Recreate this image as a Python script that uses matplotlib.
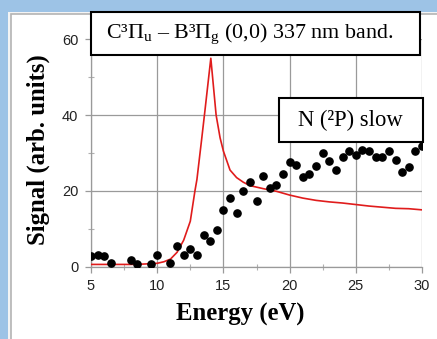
import matplotlib
matplotlib.use("Agg")
import matplotlib.pyplot as plt
from matplotlib.patches import Rectangle
from matplotlib.ticker import MultipleLocator

# N(2P) slow-atom signal (dots)
dot_energy = [5.0, 5.5, 6.0, 6.5, 8.0, 8.5, 9.5, 10.0, 11.0, 11.5, 12.0, 12.5,
              13.0, 13.5, 14.0, 14.5, 15.0, 15.5, 16.0, 16.5, 17.0, 17.5, 18.0,
              18.5, 19.0, 19.5, 20.0, 20.5, 21.0, 21.5, 22.0, 22.5, 23.0, 23.5,
              24.0, 24.5, 25.0, 25.5, 26.0, 26.5, 27.0, 27.5, 28.0, 28.5, 29.0,
              29.5, 30.0]
dot_signal = [2.8, 3.1, 2.8, 1.1, 1.8, 0.7, 0.6, 3.0, 0.9, 5.5, 3.2, 4.8,
              3.0, 8.3, 6.9, 9.7, 15.0, 18.0, 14.3, 20.1, 22.3, 17.4, 23.9,
              20.8, 21.6, 24.4, 27.7, 26.8, 23.7, 24.5, 26.7, 30.1, 28.0, 25.5,
              28.9, 30.6, 29.5, 30.8, 30.4, 28.9, 28.9, 30.6, 28.2, 24.9, 26.4,
              30.6, 31.9]

# C-B (0,0) 337 nm band emission (red curve)
band_energy = [5.0, 6.0, 7.0, 8.0, 9.0, 10.0, 10.5, 11.0, 11.5, 12.0, 12.5,
               12.85, 13.0, 13.35, 13.6, 14.05, 14.45, 14.75, 15.0, 15.5, 16.0,
               16.5, 17.0, 18.0, 19.0, 20.0, 21.0, 22.0, 23.0, 24.0, 25.0, 26.0,
               27.0, 28.0, 29.0, 30.0]
band_signal = [0.6, 0.6, 0.6, 0.6, 0.7, 0.9, 1.3, 2.0, 3.8, 7.0, 12.0,
               20.0, 23.0, 33.4, 41.0, 55.0, 40.0, 34.0, 30.5, 25.5, 23.5,
               22.3, 21.4, 20.6, 19.9, 18.9, 18.1, 17.5, 17.1, 16.8, 16.4, 16.0,
               15.7, 15.4, 15.3, 15.0]

x_ticks = [5, 10, 15, 20, 25, 30]
y_ticks = [0, 20, 40, 60]

plt.rcParams["mathtext.fontset"] = "custom"
plt.rcParams["mathtext.rm"] = "Liberation Serif"
plt.rcParams["mathtext.it"] = "Liberation Serif:italic"

W, H = 437, 339
fig = plt.figure(figsize=(W / 100, H / 100), dpi=100)
fig.patch.set_facecolor("#9dc3e6")


def fx(px):
    return px / W


def fy(py):
    return 1 - py / H


# white slide panel
fig.patches.append(Rectangle((fx(8), 0), 1, fy(12), transform=fig.transFigure,
                             facecolor="#f4f4f4", edgecolor="none", zorder=-2))
fig.patches.append(Rectangle((fx(10.5), -0.1), 1, fy(14) + 0.1,
                             transform=fig.transFigure, facecolor="white",
                             edgecolor="#b4b4b4", linewidth=1.2, zorder=-1))

ax = fig.add_axes([fx(91), fy(266.7), fx(422) - fx(91), fy(39.3) - fy(266.7)])
ax.set_zorder(1)
ax.set_facecolor("none")
ax.set_xlim(5, 30)
ax.set_ylim(0, 60)

ax.plot(band_energy, band_signal, color="#e01c1c", linewidth=1.2, zorder=3)
ax.plot(dot_energy, dot_signal, linestyle="none", marker="o", markersize=5.2,
        color="black", zorder=4)

ax.set_xticks(x_ticks)
ax.set_yticks(y_ticks)
ax.xaxis.set_minor_locator(MultipleLocator(2.5))
ax.yaxis.set_minor_locator(MultipleLocator(10))
ax.grid(True, which="major", color="#9a9a9a", linewidth=0.9)
for s in ["top", "right"]:
    ax.spines[s].set_visible(False)
for s in ["left", "bottom"]:
    ax.spines[s].set_color("#9a9a9a")
    ax.spines[s].set_linewidth(0.9)
ax.tick_params(which="major", direction="out", length=4, width=0.9,
               color="#9a9a9a", labelsize=10.5, labelcolor="#222222")
ax.tick_params(which="minor", direction="inout", length=4, width=0.8,
               color="#b0b0b0")
ax.tick_params(axis="x", pad=5)
ax.tick_params(axis="y", pad=5)
for lab in ax.get_xticklabels() + ax.get_yticklabels():
    lab.set_fontfamily("Liberation Sans")

fig.text(fx(240), fy(314), "Energy (eV)", ha="center", va="center",
         fontsize=17.8, fontweight="bold", family="Liberation Serif")
fig.text(fx(38), fy(150), "Signal (arb. units)", ha="center", va="center",
         rotation=90, fontsize=17.8, fontweight="bold", family="Liberation Serif")

# annotation boxes
fig.patches.append(Rectangle((fx(91), fy(55)), fx(420) - fx(91), fy(12) - fy(55),
                             transform=fig.transFigure, facecolor="white",
                             edgecolor="black", linewidth=1.5, zorder=5))
fig.text(fx(250), fy(34), r"C³$\Pi_{\mathrm{u}}$ – B³$\Pi_{\mathrm{g}}$ (0,0) 337 nm band.",
         ha="center", va="center", fontsize=15.8, family="Liberation Serif",
         zorder=6)
fig.patches.append(Rectangle((fx(279), fy(141.7)), fx(423.3) - fx(279),
                             fy(98) - fy(141.7), transform=fig.transFigure,
                             facecolor="white", edgecolor="black",
                             linewidth=1.5, zorder=5))
fig.text(fx(350), fy(120), "N (²P) slow", ha="center", va="center",
         fontsize=16.3, family="Liberation Serif", zorder=6)

fig.savefig("out.png", dpi=100, facecolor=fig.get_facecolor())
